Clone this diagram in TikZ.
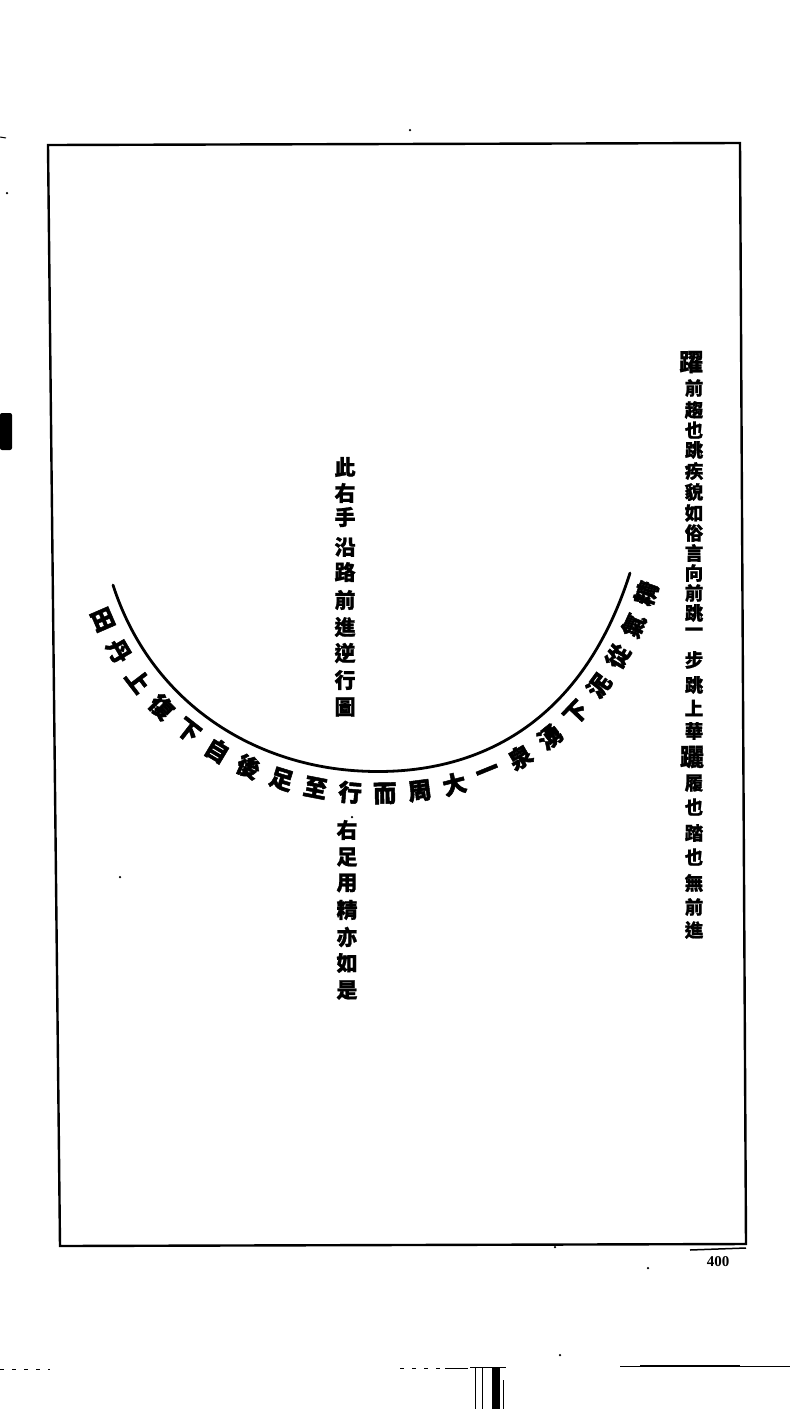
\documentclass[tikz,border=0pt]{standalone}
\usepackage{fontspec}
\setmainfont{Liberation Serif}
\newfontfamily\cjk{Noto Sans CJK TC}[BoldFeatures={FakeBold=1}]
\newfontfamily\cjkarc{Noto Sans CJK TC}[BoldFeatures={FakeBold=2}]
\usetikzlibrary{decorations.markings}
\newcommand\arcglyph[1]{\ifcase#1\or 田\or 丹\or 上\or 復\or 下\or 自\or 後\or 足\or 至\or 行\or 而\or 周\or 大\or 一\or 泉\or 湧\or 下\or 泥\or 從\or 氣\or 精\fi}
\newcommand\arcnode[1]{\node[arcch] (arc#1) at (0,-22) {\arcglyph{#1}};}
\begin{document}
\begin{tikzpicture}[x=1pt,y=1pt,
  frame/.style={line width=2.4pt, line join=miter},
  col/.style={inner sep=0pt, font=\cjk\bfseries\fontsize{18.5}{18.5}\selectfont},
  colbig/.style={inner sep=0pt, font=\cjk\bfseries\fontsize{24}{24}\selectfont},
  mid/.style={inner sep=0pt, font=\cjk\bfseries\fontsize{21}{21}\selectfont},
  arcch/.style={inner sep=0pt, transform shape, font=\cjkarc\bfseries\fontsize{23.5}{23.5}\selectfont},
  curve/.style={line width=2.8pt, line cap=round},
  speck/.style={fill=black, inner sep=0pt, minimum size=2.5pt, circle},
  mark1/.style={line width=1pt}]
\useasboundingbox (0,0) rectangle (795,-1409);
\fill[white] (0,0) rectangle (795,-1409);
% page frame
\draw[frame] (48,-145) -- (740,-143) -- (746,-1244) -- (60,-1246) -- cycle;
% right column
\foreach \c/\y in {前/388,趨/410,也/430,跳/450,疾/471,貌/492,如/513,俗/533,言/553,向/573,前/593,跳/613,一/632,步/660,跳/685,上/708,華/731,履/783,也/807,踏/833,也/857,無/883,前/907,進/930}
  {\node[col] (rc\y) at (694,-\y) {\c};}
\node[colbig] (rtop) at (691,-362) {躍};
\node[colbig] (rmid) at (692,-757) {躧};
% centre columns
\foreach \c/\y in {此/467,右/493,手/517,沿/547,路/572,前/600,進/627,逆/653,行/680,圖/707}
  {\node[mid] (ca\y) at (345,-\y) {\c};}
\foreach \c/\y in {右/830,足/857,用/883,精/910,亦/937,如/963,是/990}
  {\node[mid] (cb\y) at (347,-\y) {\c};}
% curve with text
\draw[curve, postaction={decorate}, decoration={markings,
  mark=at position 0.040 with {\arcnode{1}},
  mark=at position 0.087 with {\arcnode{2}},
  mark=at position 0.134 with {\arcnode{3}},
  mark=at position 0.181 with {\arcnode{4}},
  mark=at position 0.228 with {\arcnode{5}},
  mark=at position 0.275 with {\arcnode{6}},
  mark=at position 0.322 with {\arcnode{7}},
  mark=at position 0.369 with {\arcnode{8}},
  mark=at position 0.416 with {\arcnode{9}},
  mark=at position 0.463 with {\arcnode{10}},
  mark=at position 0.510 with {\arcnode{11}},
  mark=at position 0.557 with {\arcnode{12}},
  mark=at position 0.604 with {\arcnode{13}},
  mark=at position 0.651 with {\arcnode{14}},
  mark=at position 0.698 with {\arcnode{15}},
  mark=at position 0.745 with {\arcnode{16}},
  mark=at position 0.792 with {\arcnode{17}},
  mark=at position 0.839 with {\arcnode{18}},
  mark=at position 0.886 with {\arcnode{19}},
  mark=at position 0.933 with {\arcnode{20}},
  mark=at position 0.980 with {\arcnode{21}}}]
  (113,-585) .. controls (150,-700) and (250,-765) .. (360,-771)
  .. controls (470,-777) and (580,-730) .. (630,-573);
% page number
\node[inner sep=0pt, font=\bfseries\fontsize{15}{15}\selectfont] (pg) at (718,-1262) {400};
\draw[line width=1.5pt] (690,-1250) -- (746,-1248);
% scan marks at the edges
\fill[rounded corners=2pt] (0,-413) rectangle (12,-450);
\draw[mark1] (0,-137) -- (6,-138);
\node[speck] (s1) at (7,-193) {};
\node[speck] (s2) at (410,-130) {};
\node[speck] (s3) at (120,-877) {};
\node[speck] (s4) at (555,-1247) {};
\node[speck] (s5) at (648,-1268) {};
\node[speck] (s6) at (352,-817) {};
\draw[mark1, dash pattern=on 4pt off 8pt] (0,-1369) -- (50,-1369);
\draw[mark1, dash pattern=on 4pt off 8pt] (400,-1368) -- (440,-1368);
\draw[mark1] (445,-1368) -- (468,-1368);
\draw[mark1] (470,-1367) -- (506,-1367);
\draw[mark1] (475,-1367) -- (475,-1409);
\draw[mark1] (482,-1367) -- (482,-1409);
\fill (492,-1367) rectangle (500,-1409);
\draw[mark1] (503,-1380) -- (503,-1409);
\node[speck] (s7) at (560,-1355) {};
\draw[mark1] (620,-1366) -- (790,-1366);
\draw[line width=2pt] (640,-1366) -- (740,-1366);
\end{tikzpicture}
\end{document}
